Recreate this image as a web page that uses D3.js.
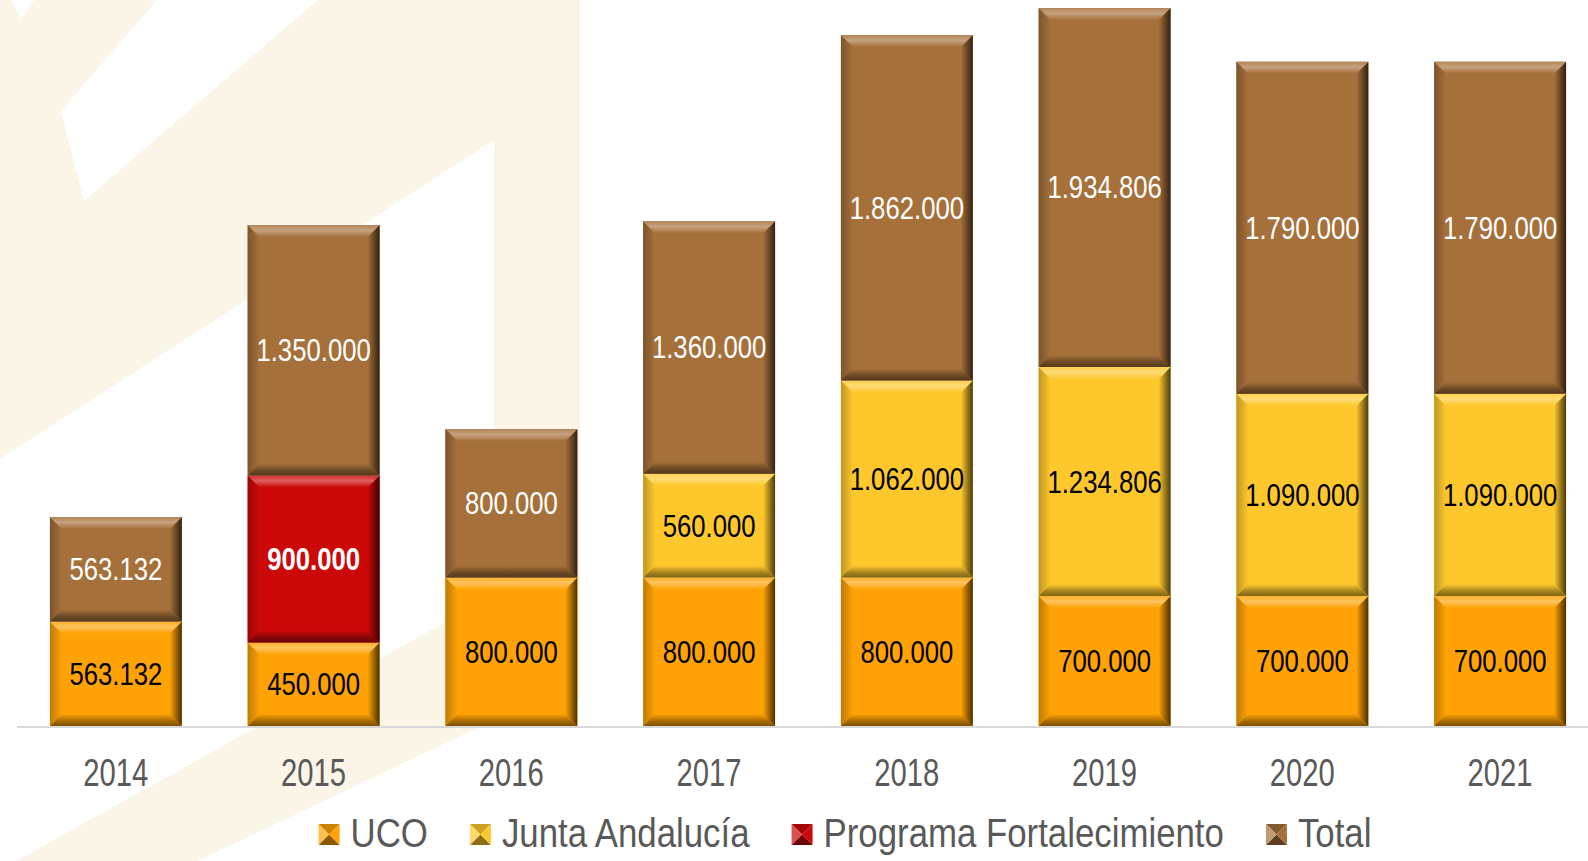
<!DOCTYPE html>
<html lang="es">
<head>
<meta charset="utf-8">
<script src="https://cdn.jsdelivr.net/npm/d3@7"></script>
<style>
  html, body { margin: 0; padding: 0; background: #ffffff; }
  svg { display: block; }
  text { font-family: "Liberation Sans", Arial, sans-serif; }
</style>
</head>
<body>
<svg id="chart" width="1588" height="861"></svg>
<script>
// ---- Data -------------------------------------------------------------
const years     = ["2014", "2015", "2016", "2017", "2018", "2019", "2020", "2021"];
const uco       = [563132, 450000, 800000, 800000, 800000, 700000, 700000, 700000];
const junta     = [0, 0, 0, 560000, 1062000, 1234806, 1090000, 1090000];
const programa  = [0, 900000, 0, 0, 0, 0, 0, 0];
const total     = [563132, 1350000, 800000, 1360000, 1862000, 1934806, 1790000, 1790000];

const seriesKeys   = ["uco", "junta", "programa", "total"];
const seriesNames  = ["UCO", "Junta Andalucía", "Programa Fortalecimiento", "Total"];
const seriesColors = ["#fea205", "#fec82c", "#cc0808", "#a6703a"];
const labelColors  = ["#000000", "#000000", "#ffffff", "#ffffff"];
const labelWeights = ["normal", "normal", "bold", "normal"];

// ---- Setup ------------------------------------------------------------
const W = 1588, H = 861;
const svg = d3.select("#chart");
const defs = svg.append("defs");

const es = d3.formatLocale({ decimal: ",", thousands: ".", grouping: [3], currency: ["", " €"] });
const fmt = es.format(",d");

const rows = years.map((y, i) => ({
  year: y, uco: uco[i], junta: junta[i], programa: programa[i], total: total[i]
}));
const stacked = d3.stack().keys(seriesKeys)(rows);

const baseY = 726;
const x = d3.scaleBand().domain(years).range([17, 1599]).paddingInner(0.333).paddingOuter(0.1665);
const y = d3.scaleLinear().domain([0, 4000000]).range([baseY, baseY - 742.2]);

// ---- Background watermark ---------------------------------------------
const wm = svg.append("g").attr("class", "watermark");
const beige = "#fbf5e8";
const wmShapes = [
  { fill: beige, pts: [[0,0],[580,0],[580,700],[494,700],[494,140],[0,459]] },
  { fill: beige, pts: [[16,861],[494,595],[494,720],[198,861]] },
  { fill: "#ffffff", pts: [[157,0],[318,0],[84,201],[61,111]] },
  { fill: "#ffffff", pts: [[11,0],[34,0],[21,19]] }
];
wm.selectAll("polygon").data(wmShapes).join("polygon")
  .attr("points", d => d.pts.map(p => p.join(",")).join(" "))
  .attr("fill", d => d.fill);

// ---- Axis line ----------------------------------------------------------
svg.append("line")
  .attr("x1", 17).attr("x2", W).attr("y1", baseY + 1).attr("y2", baseY + 1)
  .attr("stroke", "#d9d9d9").attr("stroke-width", 2);

// ---- Bevel gradients per series ----------------------------------------
function mix(c1, c2, t) { return d3.interpolateRgb(c1, c2)(t); }
seriesColors.forEach((c, i) => {
  const k = seriesKeys[i];
  const light = mix(c, "#ffffff", 0.35);
  const dark = mix(c, "#000000", 0.7);
  const mid = mix(c, "#000000", 0.35);
  const lg = (id, x1, y1, x2, y2, stops) => {
    const g = defs.append("linearGradient").attr("id", id)
      .attr("x1", x1).attr("y1", y1).attr("x2", x2).attr("y2", y2);
    stops.forEach(s => g.append("stop").attr("offset", s[0]).attr("stop-color", s[1]));
  };
  lg(`top-${k}`, 0, 0, 0, 1, [[0, mix(c, "#ffffff", 0.15)], [0.45, light], [1, c]]);
  lg(`right-${k}`, 0, 0, 1, 0, [[0, c], [0.5, mid], [1, dark]]);
  lg(`bottom-${k}`, 0, 0, 0, 1, [[0, c], [0.6, mid], [1, mix(c, "#000000", 0.5)]]);
  lg(`left-${k}`, 0, 0, 1, 0, [[0, mix(c, "#000000", 0.25)], [1, c]]);
});

// ---- Bars -----------------------------------------------------------------
const b = 12;
const barsG = svg.append("g").attr("class", "bars");
stacked.forEach((s, si) => {
  const k = seriesKeys[si];
  const segs = s.map((d, i) => ({ year: years[i], y0: d[0], y1: d[1], v: d[1] - d[0] }))
    .filter(d => d.v > 0);
  const g = barsG.append("g").attr("class", `series-${k}`);
  const seg = g.selectAll("g").data(segs).join("g");
  const geom = d => {
    const x0 = x(d.year), x1 = x0 + x.bandwidth();
    const yt = y(d.y1), yb = y(d.y0);
    return { x0, x1, yt, yb };
  };
  seg.append("rect")
    .attr("x", d => geom(d).x0).attr("y", d => geom(d).yt)
    .attr("width", x.bandwidth()).attr("height", d => geom(d).yb - geom(d).yt)
    .attr("fill", seriesColors[si]);
  const poly = (name, f) => seg.append("polygon")
    .attr("points", d => f(geom(d)).map(p => p.join(",")).join(" "))
    .attr("fill", `url(#${name}-${k})`);
  poly("left", g0 => [[g0.x0, g0.yt], [g0.x0 + b, g0.yt + b], [g0.x0 + b, g0.yb - b], [g0.x0, g0.yb]]);
  poly("bottom", g0 => [[g0.x0, g0.yb], [g0.x0 + b, g0.yb - b], [g0.x1 - b, g0.yb - b], [g0.x1, g0.yb]]);
  poly("right", g0 => [[g0.x1, g0.yt], [g0.x1, g0.yb], [g0.x1 - b, g0.yb - b], [g0.x1 - b, g0.yt + b]]);
  poly("top", g0 => [[g0.x0, g0.yt], [g0.x1, g0.yt], [g0.x1 - b, g0.yt + b], [g0.x0 + b, g0.yt + b]]);

  // value labels
  seg.append("text")
    .attr("transform", d => {
      const gg = geom(d);
      return `translate(${gg.x0 + x.bandwidth() / 2},${(gg.yt + gg.yb) / 2 + 11}) scale(0.83,1)`;
    })
    .attr("text-anchor", "middle")
    .attr("font-size", 31)
    .attr("font-weight", labelWeights[si])
    .attr("fill", labelColors[si])
    .text(d => fmt(d.v));
});

// ---- Category labels ------------------------------------------------------
svg.append("g").attr("class", "x-labels")
  .selectAll("text").data(years).join("text")
  .attr("transform", d => `translate(${x(d) + x.bandwidth() / 2},786) scale(0.74,1)`)
  .attr("text-anchor", "middle")
  .attr("font-size", 39.5)
  .attr("fill", "#595959")
  .text(d => d);

// ---- Legend ---------------------------------------------------------------
const legendG = svg.append("g").attr("class", "legend");
const lfs = 40, lsx = 0.87, mk = 21, mkGap = 11, itemGap = 42;
const items = legendG.selectAll("g").data(seriesNames).join("g");
items.append("text")
  .attr("font-size", lfs).attr("fill", "#595959")
  .text(d => d);
const widths = [];
items.select("text").each(function () { widths.push(this.getComputedTextLength() * lsx); });
const totalW = d3.sum(widths) + seriesNames.length * (mk + mkGap) + (seriesNames.length - 1) * itemGap;
let cx = 845 - totalW / 2;
const mY = 824;
items.each(function (d, i) {
  const g = d3.select(this);
  const x0 = cx, c = seriesColors[i];
  const light = mix(c, "#ffffff", 0.3), dark = mix(c, "#000000", 0.45), mid = mix(c, "#000000", 0.2);
  const tri = (pts, fill) => g.append("polygon").attr("points", pts.map(p => p.join(",")).join(" ")).attr("fill", fill);
  const cxm = x0 + mk / 2, cym = mY + mk / 2;
  tri([[x0, mY], [x0 + mk, mY], [cxm, cym]], mid);
  tri([[x0, mY + mk], [x0 + mk, mY + mk], [cxm, cym]], dark);
  tri([[x0, mY], [x0, mY + mk], [cxm, cym]], light);
  tri([[x0 + mk, mY], [x0 + mk, mY + mk], [cxm, cym]], c);
  g.select("text").attr("transform", `translate(${x0 + mk + mkGap},847) scale(${lsx},1)`);
  cx += mk + mkGap + widths[i] + itemGap;
});
</script>
</body>
</html>
